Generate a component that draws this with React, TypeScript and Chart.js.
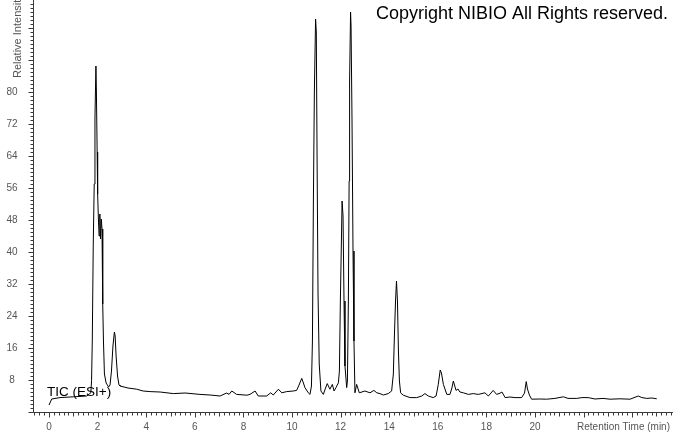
import React, { useEffect, useRef } from "react";
import { Chart, registerables } from "chart.js";

Chart.register(...registerables);

// Retention time (min) of each sampled point of the TIC trace
const retentionTimes: number[] = [
  0, 0.11, 0.45, 1.0, 1.55, 1.72, 1.75, 1.78, 1.82, 1.86,
  1.89, 1.93, 1.95, 1.98, 2.0, 2.03, 2.06, 2.09, 2.12, 2.15,
  2.18, 2.21, 2.24, 2.28, 2.35, 2.45, 2.51, 2.57, 2.63, 2.69,
  2.72, 2.76, 2.82, 2.88, 2.92, 3.25, 3.61, 3.87, 4.16, 4.57,
  5.12, 5.6, 6.21, 6.63, 7.04, 7.31, 7.41, 7.52, 7.72, 8.14,
  8.27, 8.48, 8.61, 8.96, 9.12, 9.23, 9.44, 9.58, 9.78, 10.05,
  10.19, 10.29, 10.4, 10.47, 10.53, 10.67, 10.74, 10.8, 10.84, 10.88,
  10.92, 10.97, 11.0, 11.03, 11.07, 11.12, 11.19, 11.29, 11.38, 11.45,
  11.56, 11.66, 11.73, 11.81, 11.91, 11.95, 11.99, 12.04, 12.06, 12.1,
  12.14, 12.18, 12.25, 12.28, 12.32, 12.35, 12.37, 12.41, 12.43, 12.47,
  12.51, 12.55, 12.59, 12.66, 12.77, 13.0, 13.21, 13.37, 13.49, 13.62,
  13.76, 13.96, 14.1, 14.17, 14.22, 14.26, 14.3, 14.34, 14.38, 14.42,
  14.47, 14.58, 14.86, 15.13, 15.34, 15.47, 15.61, 15.81, 15.93, 16.02,
  16.1, 16.15, 16.23, 16.37, 16.5, 16.58, 16.64, 16.71, 16.75, 16.83,
  16.91, 17.05, 17.26, 17.46, 17.67, 17.94, 18.08, 18.19, 18.28, 18.42,
  18.56, 18.64, 18.77, 18.97, 19.18, 19.45, 19.57, 19.64, 19.69, 19.77,
  19.86, 20.2, 20.48, 20.82, 21.17, 21.36, 21.72, 21.93, 22.19, 22.47,
  22.8, 23.09, 23.5, 23.91, 24.25, 24.4, 24.6, 24.81, 25.01,
];

// Relative intensity at each retention time
const relativeIntensity: number[] = [
  1.75, 3.25, 3.6, 3.8, 4.0, 4.8, 7.8, 17.75, 42, 57,
  73.5, 86.5, 80, 65, 54.5, 48.5, 44, 49.5, 43.25, 48.25,
  45.75, 27, 17.75, 9.5, 7.25, 6.25, 6.75, 10.25, 16.5, 20,
  19, 14, 9, 6.75, 6.5, 6.0, 5.7, 5.25, 5.1, 5.0,
  4.6, 4.75, 4.4, 4.25, 4.0, 4.75, 4.4, 5.25, 4.4, 4.2,
  4.4, 5.25, 4.0, 4.0, 4.8, 4.25, 5.7, 4.8, 5.1, 5.25,
  5.4, 6.75, 8.4, 7.25, 6.1, 4.8, 4.4, 6.5, 17.75, 52.75,
  80, 98.25, 95, 65, 30, 12, 5.25, 4.4, 6.0, 7.1,
  5.7, 6.9, 5.25, 6.1, 7.3, 10.25, 27.75, 45.25, 52.75, 49,
  27.75, 11.5, 6.1, 7.75, 27.75, 57.75, 82.75, 100, 96.5, 72.75,
  40.25, 17.75, 4.8, 6.9, 4.8, 5.25, 4.8, 5.4, 4.8, 4.6,
  4.25, 4.6, 5.25, 9.5, 20.25, 27.75, 32.75, 27.75, 15.25, 7.75,
  4.8, 4.2, 3.6, 3.6, 4.0, 4.6, 4.0, 3.6, 4.0, 6.9,
  10.5, 9.75, 6.9, 4.4, 4.4, 6.0, 7.75, 6.25, 5.4, 5.75,
  5.0, 4.8, 4.4, 4.6, 4.4, 4.8, 4.0, 4.75, 5.4, 4.4,
  4.7, 5.0, 3.6, 3.75, 3.6, 3.6, 4.75, 7.6, 5.75, 4.25,
  3.2, 3.25, 3.2, 3.4, 3.8, 3.4, 3.4, 3.6, 3.6, 3.25,
  3.4, 3.2, 3.3, 3.2, 4.0, 3.6, 3.4, 3.5, 3.3,
];

const xTickLabels: number[] = [0, 2, 4, 6, 8, 10, 12, 14, 16, 18, 20];
const yTickLabels: number[] = [8, 16, 24, 32, 40, 48, 56, 64, 72, 80];
const xAxisTitle = "Retention Time (min)";
const yAxisTitle = "Relative Intensity";
const traceLabel = "TIC (ESI+)";
const copyrightText = "Copyright NIBIO All Rights reserved.";

const X_MIN = -0.66;
const X_MAX = 25.68;
const Y_MIN = 0;
const Y_MAX = 103;

const axesPlugin = {
  id: "chromAxes",
  afterDraw(chart: any) {
    const { ctx, chartArea } = chart;
    const xs = chart.scales.x;
    const ys = chart.scales.y;
    ctx.save();
    ctx.strokeStyle = "#3a3a3a";
    ctx.lineWidth = 1;
    const ax = Math.round(chartArea.left) + 0.5;
    const ay = Math.round(chartArea.bottom) + 0.5;
    ctx.beginPath();
    ctx.moveTo(ax, chartArea.top);
    ctx.lineTo(ax, ay);
    ctx.lineTo(chartArea.right, ay);
    ctx.stroke();

    // y ticks (minor every 1, major every 8)
    ctx.beginPath();
    for (let v = 0; v <= 102; v += 1) {
      const py = Math.round(ys.getPixelForValue(v)) + 0.5;
      const len = v % 8 === 0 ? 5 : 3;
      ctx.moveTo(ax - len, py);
      ctx.lineTo(ax, py);
    }
    // x ticks (minor every 0.2, major every 2)
    for (let i = -3; i <= 128; i++) {
      const t = i * 0.2;
      const px = Math.round(xs.getPixelForValue(t)) + 0.5;
      const len = i % 10 === 0 ? 5 : i % 5 === 0 ? 4 : 3;
      ctx.moveTo(px, ay);
      ctx.lineTo(px, ay + len);
    }
    ctx.stroke();

    ctx.fillStyle = "#555555";
    ctx.font = "10px 'Liberation Sans', Arial, sans-serif";
    ctx.textAlign = "center";
    ctx.textBaseline = "middle";
    for (const v of yTickLabels) {
      ctx.fillText(String(v), 12, ys.getPixelForValue(v));
    }
    for (const t of xTickLabels) {
      ctx.fillText(String(t), xs.getPixelForValue(t), 427);
    }
    ctx.textAlign = "right";
    ctx.fillText(xAxisTitle, 670, 427);

    // rotated y title
    ctx.save();
    ctx.translate(18, 78);
    ctx.rotate(-Math.PI / 2);
    ctx.textAlign = "left";
    ctx.font = "11px 'Liberation Sans', Arial, sans-serif";
    ctx.fillText(yAxisTitle, 0, 0);
    ctx.restore();

    ctx.fillStyle = "#000000";
    ctx.font = "13.5px 'Liberation Sans', Arial, sans-serif";
    ctx.textAlign = "left";
    ctx.fillText(traceLabel, 47, 392);

    ctx.font = "18px 'Liberation Sans', Arial, sans-serif";
    ctx.textAlign = "left";
    ctx.fillText(copyrightText, 376, 14);
    ctx.restore();
  },
};

export default function App() {
  const canvasRef = useRef<HTMLCanvasElement | null>(null);

  useEffect(() => {
    const canvas = canvasRef.current;
    if (!canvas) return;
    const points = retentionTimes.map((t, i) => ({ x: t, y: relativeIntensity[i] }));
    const chart = new Chart(canvas, {
      type: "line",
      data: {
        datasets: [
          {
            label: traceLabel,
            data: points,
            borderColor: "#000000",
            borderWidth: 1,
            pointRadius: 0,
            tension: 0,
            fill: false,
          },
        ],
      },
      options: {
        responsive: false,
        animation: false,
        layout: { padding: { left: 33, right: 0, top: 0, bottom: 21 } },
        scales: {
          x: { type: "linear", min: X_MIN, max: X_MAX, display: false },
          y: { type: "linear", min: Y_MIN, max: Y_MAX, display: false },
        },
        plugins: {
          legend: { display: false },
          tooltip: { enabled: false },
        },
      },
      plugins: [axesPlugin],
    });
    return () => chart.destroy();
  }, []);

  return (
    <div
      style={{
        position: "fixed",
        left: 0,
        top: 0,
        width: 673,
        height: 433,
        background: "#ffffff",
      }}
    >
      <canvas ref={canvasRef} width={673} height={433} style={{ width: 673, height: 433 }} />
    </div>
  );
}
